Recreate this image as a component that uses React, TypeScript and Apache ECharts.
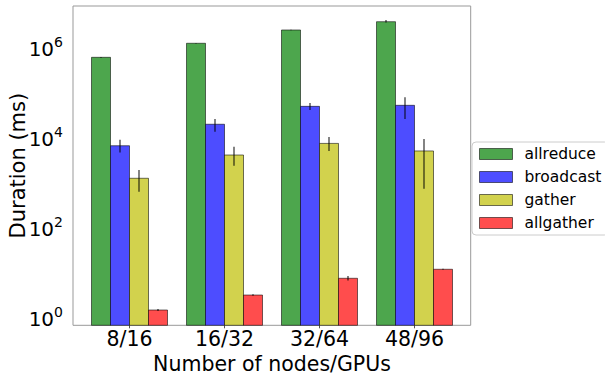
import React, { useEffect, useRef } from "react";
import * as echarts from "echarts";

const categories = ["8/16", "16/32", "32/64", "48/96"];
const seriesNames = ["allreduce", "broadcast", "gather", "allgather"];

const allreduce = [5.9e5, 1.21e6, 2.39e6, 3.65e6];
const allreduceLow = [5.8e5, 1.19e6, 2.35e6, 3.5e6];
const allreduceHigh = [6.0e5, 1.23e6, 2.43e6, 4.0e6];

const broadcast = [6.4e3, 1.92e4, 4.8e4, 5.06e4];
const broadcastLow = [4.5e3, 1.31e4, 4.0e4, 2.5e4];
const broadcastHigh = [8.7e3, 2.5e4, 5.7e4, 7.6e4];

const gather = [1.21e3, 3.98e3, 7.2e3, 4.9e3];
const gatherLow = [610, 2.3e3, 4.9e3, 710];
const gatherHigh = [1.84e3, 6.1e3, 1.0e4, 9.0e3];

const allgather = [1.43, 3.08, 7.25, 11.5];
const allgatherLow = [1.36, 2.95, 6.5, 11.2];
const allgatherHigh = [1.5, 3.2, 8.2, 11.8];

const yMin = 0.654;
const yMax = 8.15e6;

const colors = ["#4da64d", "#4d4dff", "#d2d24d", "#ff4d4d"];
const edge = "rgba(0,0,0,0.55)";
const FONT = "DejaVu Sans";

export default function App() {
  const ref = useRef<HTMLDivElement>(null);
  useEffect(() => {
    if (!ref.current) return;
    const chart = echarts.init(ref.current, null, { renderer: "svg" });
    const values = [allreduce, broadcast, gather, allgather];
    const lows = [allreduceLow, broadcastLow, gatherLow, allgatherLow];
    const highs = [allreduceHigh, broadcastHigh, gatherHigh, allgatherHigh];
    const offsets = [-0.3, -0.1, 0.1, 0.3];

    const barSeries = seriesNames.map((name, si) => ({
      type: "custom",
      name,
      xAxisIndex: 0,
      yAxisIndex: 0,
      itemStyle: { color: colors[si] },
      encode: { x: 0, y: 1 },
      data: values[si].map((v, i) => [i, v]),
      renderItem: (params: any, api: any) => {
        const cat = api.value(0);
        const v = api.value(1);
        const top = api.coord([cat, v]);
        const base = api.coord([cat, yMin]);
        const bw = api.coord([1, v])[0] - api.coord([0, v])[0];
        const cx = top[0] + offsets[si] * bw;
        return {
          type: "rect",
          shape: { x: cx - 0.1 * bw, y: top[1], width: 0.2 * bw, height: base[1] - top[1] },
          style: { fill: colors[si], stroke: edge, lineWidth: 1 },
        };
      },
      z: 2,
    }));

    const errSeries = seriesNames.map((name, si) => ({
      type: "custom",
      name: name + "-err",
      xAxisIndex: 0,
      yAxisIndex: 0,
      encode: { x: 0, y: [1, 2] },
      data: lows[si].map((lo, i) => [i, lo, highs[si][i]]),
      renderItem: (params: any, api: any) => {
        const cat = api.value(0);
        const lo = api.coord([cat, api.value(1)]);
        const hi = api.coord([cat, api.value(2)]);
        const bw = api.coord([1, api.value(1)])[0] - api.coord([0, api.value(1)])[0];
        const x = lo[0] + offsets[si] * bw;
        return {
          type: "line",
          shape: { x1: x, y1: lo[1], x2: x, y2: hi[1] },
          style: { stroke: "rgba(0,0,0,0.75)", lineWidth: 1.3 },
        };
      },
      z: 3,
    }));

    const labelFmt = (v: number) => {
      const e = Math.log10(v);
      const r = Math.round(e);
      if (Math.abs(e - r) > 1e-6 || r % 2 !== 0) return "";
      return `{b|10}{s|${r}}`;
    };

    chart.setOption({
      animation: false,
      grid: [
        { left: 82, width: 380, top: 6, height: 319.3, show: false, containLabel: false, outerBoundsMode: "none" },
        {
          left: 73,
          width: 397.7,
          top: 6,
          height: 319.3,
          show: true,
          borderColor: "#999",
          borderWidth: 1,
          backgroundColor: "transparent",
          containLabel: false,
          outerBoundsMode: "none",
          z: 0,
        },
      ],
      xAxis: [
        {
          type: "category",
          gridIndex: 0,
          data: categories,
          boundaryGap: true,
          axisLine: { show: false },
          axisTick: { show: true, alignWithLabel: true, length: 3, lineStyle: { color: "#555" } },
          axisLabel: { fontSize: 20.5, color: "#000", fontFamily: FONT, margin: 3 },
          name: "Number of nodes/GPUs",
          nameLocation: "middle",
          nameGap: 28,
          nameMoveOverlap: false,
          nameTextStyle: { fontSize: 20.5, color: "#000", fontFamily: FONT },
        },
        { type: "value", gridIndex: 1, show: false, min: 0, max: 1 },
      ],
      yAxis: [
        {
          type: "log",
          gridIndex: 0,
          min: yMin,
          max: yMax,
          axisLine: { show: false },
          axisTick: { show: false },
          splitLine: { show: false },
          axisLabel: {
            formatter: labelFmt,
            margin: 19,
            rich: {
              b: { fontSize: 20, color: "#000", fontFamily: FONT, verticalAlign: "bottom" },
              s: { fontSize: 14, color: "#000", fontFamily: FONT, verticalAlign: "bottom", padding: [0, 0, 10, 0] },
            },
          },
          name: "Duration (ms)",
          nameLocation: "middle",
          nameGap: 54,
          nameMoveOverlap: false,
          nameTextStyle: { fontSize: 21, color: "#000", fontFamily: FONT },
        },
        { type: "value", gridIndex: 1, show: false, min: 0, max: 1 },
      ],
      legend: {
        left: 472,
        top: 142,
        orient: "vertical",
        padding: [4, 7, 4, 7],
        itemWidth: 33,
        itemHeight: 11,
        itemGap: 7,
        borderColor: "#ccc",
        borderWidth: 1,
        borderRadius: 4,
        backgroundColor: "#fff",
        textStyle: { fontSize: 15.5, color: "#000", fontFamily: FONT, lineHeight: 16, padding: [0, 0, 0, 7] },
        data: seriesNames.map((n, i) => ({
          name: n,
          icon: "rect",
          itemStyle: { color: colors[i], borderColor: edge, borderWidth: 1 },
        })),
      },
      series: [...barSeries, ...errSeries],
    });
    return () => chart.dispose();
  }, []);
  return <div ref={ref} style={{ position: "absolute", left: 0, top: 0, width: 605, height: 375 }} />;
}
